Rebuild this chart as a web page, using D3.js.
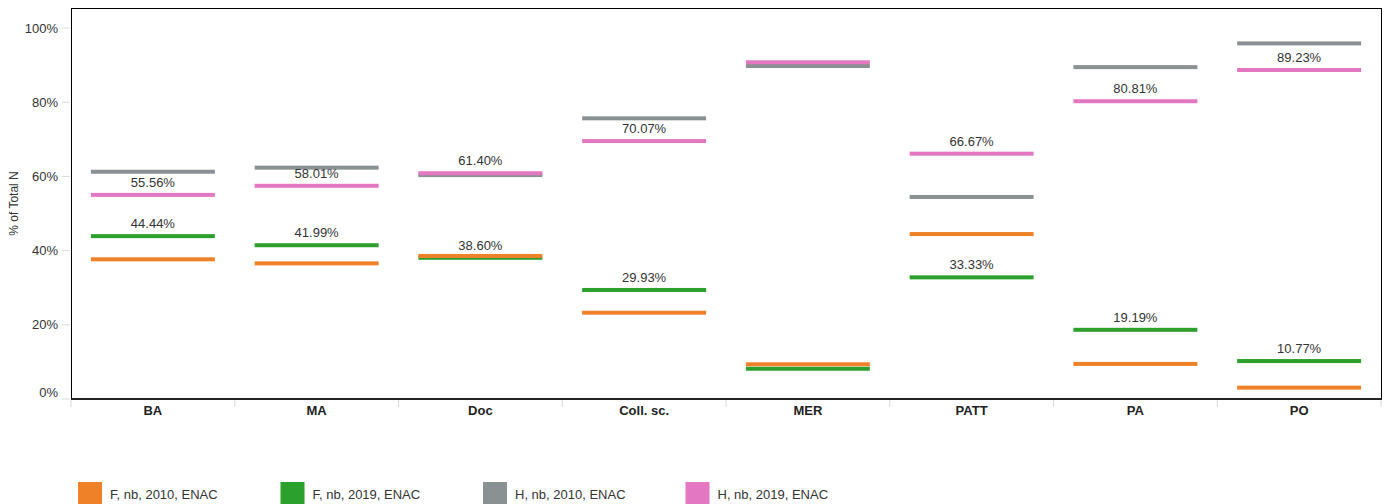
<!DOCTYPE html>
<html>
<head>
<meta charset="utf-8">
<script src="https://cdn.jsdelivr.net/npm/d3@7"></script>
<style>
  body { margin: 0; background: #fff; }
  svg { font-family: "Liberation Sans", Arial, sans-serif; display: block; }
</style>
</head>
<body>
<svg id="chart" width="1385" height="504"></svg>
<script>
// categories and series (% of Total N)
const categories = ["BA", "MA", "Doc", "Coll. sc.", "MER", "PATT", "PA", "PO"];
const f2010 = [38.2, 37.1, 39.1, 23.8, 9.9, 45.0, 10.0, 3.6];
const f2019 = [44.44, 41.99, 38.60, 29.93, 8.7, 33.33, 19.19, 10.77];
const h2010 = [61.8, 62.9, 60.9, 76.2, 90.3, 55.0, 90.0, 96.4];
const h2019 = [55.56, 58.01, 61.40, 70.07, 91.3, 66.67, 80.81, 89.23];
const labelShown = [true, true, true, true, false, true, true, true];
const yTicks = [0, 20, 40, 60, 80, 100];

const series = [
    { name: "F, nb, 2010, ENAC", values: f2010, color: "#ef8129", label: false },
    { name: "F, nb, 2019, ENAC", values: f2019, color: "#2ca02c", label: true },
    { name: "H, nb, 2010, ENAC", values: h2010, color: "#8a9193", label: false },
    { name: "H, nb, 2019, ENAC", values: h2019, color: "#e377c2", label: true }
];
// gray, pink, green, orange (later ones on top)
const drawOrder = [2, 3, 1, 0];

const svg = d3.select("#chart");
const plotL = 71, plotR = 1381, plotT = 8, plotB = 399;

const x = d3.scaleBand().domain(categories).range([plotL, plotR]).padding(0);
const y = d3.scaleLinear().domain([0, 105.4]).range([plotB, plotT]);

const barW = x.bandwidth() * 0.757;
const barH = 4;

// y ticks
const yAxis = svg.append("g");
yAxis.selectAll("line")
    .data(yTicks)
    .enter().append("line")
    .attr("x1", 62).attr("x2", plotL - 1)
    .attr("y1", d => y(d)).attr("y2", d => y(d))
    .attr("stroke", "#d9d9d9");
yAxis.selectAll("text")
    .data(yTicks)
    .enter().append("text")
    .attr("x", 58)
    .attr("y", d => d === 0 ? y(d) - 7 : y(d))
    .attr("dy", "0.35em")
    .attr("text-anchor", "end")
    .attr("font-size", 13)
    .attr("fill", "#333")
    .text(d => d + "%");

svg.append("text")
    .attr("transform", `translate(18,${(plotT + plotB) / 2}) rotate(-90)`)
    .attr("text-anchor", "middle")
    .attr("font-size", 12)
    .attr("fill", "#333")
    .text("% of Total N");

// category separators below the axis
const seps = categories.map(c => x(c)).concat([plotR]);
svg.append("g").selectAll("line")
    .data(seps)
    .enter().append("line")
    .attr("x1", d => d).attr("x2", d => d)
    .attr("y1", plotB + 1).attr("y2", plotB + 8)
    .attr("stroke", "#d9d9d9");

svg.append("g").selectAll("text")
    .data(categories)
    .enter().append("text")
    .attr("x", d => x(d) + x.bandwidth() / 2)
    .attr("y", 410)
    .attr("dy", "0.35em")
    .attr("text-anchor", "middle")
    .attr("font-size", 13)
    .attr("font-weight", "bold")
    .attr("fill", "#222")
    .text(d => d);

// bars
const marks = svg.append("g");
drawOrder.forEach(si => {
    const s = series[si];
    marks.append("g").selectAll("rect")
        .data(s.values)
        .enter().append("rect")
        .attr("x", (d, i) => x(categories[i]) + (x.bandwidth() - barW) / 2)
        .attr("y", d => y(d))
        .attr("width", barW)
        .attr("height", barH)
        .attr("fill", s.color);
});

// value labels for 2019 series
series.filter(s => s.label).forEach(s => {
    marks.append("g").selectAll("text")
        .data(s.values.map((v, i) => ({ v, i })).filter(d => labelShown[d.i]))
        .enter().append("text")
        .attr("x", d => x(categories[d.i]) + x.bandwidth() / 2)
        .attr("y", d => y(d.v) - 6)
        .attr("text-anchor", "middle")
        .attr("font-size", 13)
        .attr("fill", "#333")
        .text(d => d.v.toFixed(2) + "%");
});

// frame
svg.append("rect")
    .attr("x", plotL + 0.5).attr("y", plotT + 0.5)
    .attr("width", plotR - plotL).attr("height", plotB - plotT)
    .attr("fill", "none")
    .attr("stroke", "#000");
svg.append("line")
    .attr("x1", plotL).attr("x2", plotR + 1)
    .attr("y1", plotB).attr("y2", plotB)
    .attr("stroke", "#222").attr("stroke-width", 2);

// legend
const legend = svg.append("g").selectAll("g")
    .data(series)
    .enter().append("g")
    .attr("transform", (d, i) => `translate(${78 + i * 202.5},482)`);
legend.append("rect")
    .attr("width", 24).attr("height", 24)
    .attr("fill", d => d.color);
legend.append("text")
    .attr("x", 32).attr("y", 12)
    .attr("dy", "0.35em")
    .attr("font-size", 13)
    .attr("fill", "#333")
    .text(d => d.name);
</script>
</body>
</html>
